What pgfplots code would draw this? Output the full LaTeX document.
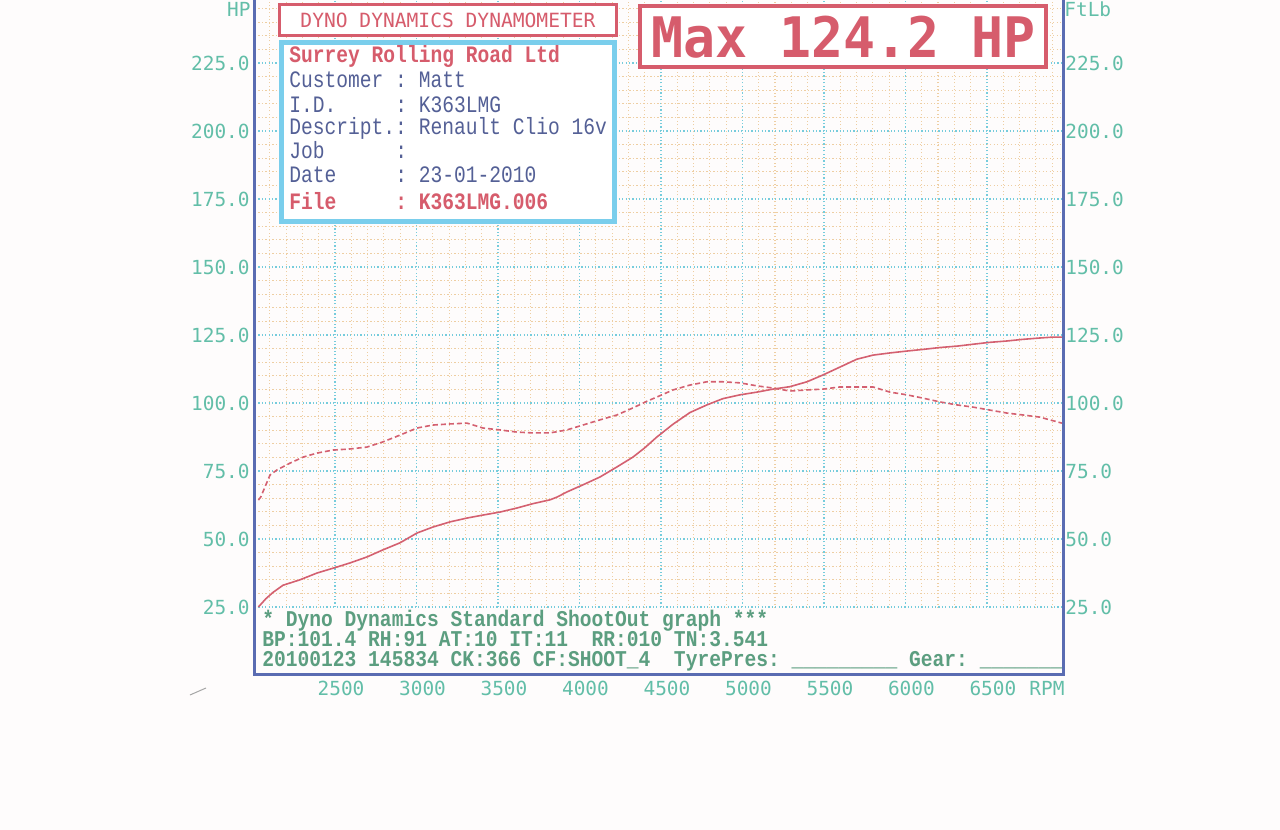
\documentclass[border=0pt]{standalone}
\usepackage{pgfplots}
\pgfplotsset{compat=1.18}
\usepackage{fontspec}
\setmainfont{Liberation Mono}
\newfontfamily\dmono{DejaVu Sans Mono}
\newfontfamily\lmono{Liberation Mono}

\definecolor{labcol}{RGB}{98,190,168}
\definecolor{footcol}{RGB}{92,158,128}
\definecolor{redcol}{RGB}{214,92,108}
\definecolor{bluetxt}{RGB}{84,96,150}
\definecolor{boxblue}{RGB}{122,206,236}
\definecolor{gridcyan}{RGB}{118,204,220}
\definecolor{gridorange}{RGB}{238,206,162}
\definecolor{frameblue}{RGB}{90,108,178}
\definecolor{curvecol}{RGB}{212,96,112}
\definecolor{paper}{RGB}{254,252,252}

\begin{document}
\begin{tikzpicture}
% page background (1280x830 px, 1 px = 0.5pt)
\fill[paper] (-127.5pt,-77.5pt) rectangle (512.5pt,337.5pt);

\begin{axis}[
    at={(0,0)}, anchor=south west,
    scale only axis, width=404pt, height=340pt,
    xmin=2009, xmax=6967, ymin=0, ymax=250,
    xtick={2500,3000,3500,4000,4500,5000,5500,6000,6500},
    xticklabels={2500,3000,3500,4000,4500,5000,5500,6000,6500},
    ytick={25,50,75,100,125,150,175,200,225},
    yticklabels={25.0,50.0,75.0,100.0,125.0,150.0,175.0,200.0,225.0},
    minor xtick={2100,2200,2300,2400,2600,2700,2800,2900,3100,3200,3300,3400,3600,3700,3800,3900,4100,4200,4300,4400,4600,4700,4800,4900,5100,5200,5300,5400,5600,5700,5800,5900,6100,6200,6300,6400,6600,6700,6800,6900},
    minor ytick={30,35,40,45,55,60,65,70,80,85,90,95,105,110,115,120,130,135,140,145,155,160,165,170,180,185,190,195,205,210,215,220,230,235,240,245},
    grid=both,
    major grid style={gridcyan, line width=0.6pt, dash pattern=on 0.6pt off 1.1pt},
    minor grid style={gridorange, line width=0.55pt, dash pattern=on 0.55pt off 1.2pt},
    tick style={draw=none},
    axis line style={frameblue, line width=1.5pt},
    ticklabel style={font=\dmono\fontsize{9.7}{10}\selectfont, text=labcol, inner sep=0pt},
    yticklabel style={anchor=east, xshift=-2.5pt},
    xticklabel style={anchor=center, yshift=-6.5pt, xshift=3pt},
  ]
  % footer area carries no grid
  \fill[paper] (axis cs:2009,0) rectangle (axis cs:6967,24.6);
  \draw[frameblue, line width=1.5pt] (rel axis cs:0,0) rectangle (rel axis cs:1,1);
  % power (HP)
  \addplot[curvecol, line width=0.8pt] coordinates {
    (2030,25.0) (2075,28.0) (2120,30.4) (2181,33.0) (2285,35.0) (2390,37.5) (2512,39.7)
    (2592,41.2) (2696,43.4) (2794,46.0) (2899,48.6) (3003,52.2) (3101,54.4) (3206,56.3)
    (3310,57.7) (3408,58.8) (3512,59.9) (3617,61.4) (3715,63.0) (3819,64.4) (3862,65.4)
    (3923,67.3) (4021,69.9) (4126,72.8) (4230,76.5) (4328,80.1) (4400,83.5) (4475,87.5)
    (4574,92.2) (4678,96.5) (4782,99.3) (4880,101.6) (4985,103.0) (5089,104.0) (5187,105.1)
    (5291,106.0) (5396,107.8) (5494,110.3) (5598,113.2) (5702,116.1) (5801,117.6)
    (5905,118.4) (6009,119.1) (6107,119.7) (6212,120.4) (6316,120.9) (6414,121.6)
    (6518,122.3) (6623,122.8) (6721,123.4) (6825,123.9) (6900,124.2) (6960,124.2)
  };
\end{axis}

\begin{axis}[
    at={(0,0)}, anchor=south west,
    scale only axis, width=404pt, height=340pt,
    xmin=2009, xmax=6967, ymin=0, ymax=250,
    axis x line=none, axis y line*=right,
    ytick={25,50,75,100,125,150,175,200,225},
    yticklabels={25.0,50.0,75.0,100.0,125.0,150.0,175.0,200.0,225.0},
    tick style={draw=none},
    axis line style={draw=none},
    ticklabel style={font=\dmono\fontsize{9.7}{10}\selectfont, text=labcol, inner sep=0pt},
    yticklabel style={anchor=west, xshift=1pt},
  ]
  % torque (FtLb)
  \addplot[curvecol, line width=0.8pt, dash pattern=on 2.5pt off 1.5pt] coordinates {
    (2030,64.3) (2045,65.5) (2070,69.1) (2101,73.5) (2144,75.4) (2224,77.9) (2304,80.1)
    (2390,81.6) (2488,82.7) (2592,83.1) (2696,83.8) (2794,85.7) (2899,88.2) (3003,90.8)
    (3101,91.9) (3206,92.3) (3310,92.6) (3408,90.8) (3512,90.1) (3617,89.3) (3715,89.0)
    (3819,89.0) (3923,90.1) (4021,91.9) (4126,93.8) (4230,95.6) (4328,98.2) (4420,100.8)
    (4475,102.2) (4574,104.8) (4678,106.6) (4782,107.8) (4880,107.8) (4985,107.4)
    (5089,106.3) (5187,105.5) (5291,104.4) (5396,104.8) (5494,105.1) (5598,105.9)
    (5702,105.9) (5801,105.9) (5905,104.0) (6009,103.0) (6107,101.8) (6212,100.4)
    (6316,99.3) (6414,98.5) (6518,97.4) (6623,96.3) (6721,95.6) (6825,94.8) (6960,92.6)
  };
\end{axis}

% annotations, in pixel positions of the sheet
\begin{scope}[x=0.5pt, y=-0.5pt, shift={(-127.5pt,337.5pt)}]
  \tikzset{lab/.style={text=labcol, inner sep=0pt, font=\dmono\fontsize{9.7}{10}\selectfont}}
  \node[lab, anchor=east] at (251,9) {HP};
  \node[lab, anchor=west] at (1064,9) {FtLb};
  \node[lab, anchor=west] at (1029,688) {RPM};

  % header box
  \draw[redcol, line width=1.5pt, fill=white] (279.5,5) rectangle (616.5,35.5);
  \node[text=redcol, inner sep=0pt, font=\dmono\fontsize{9.8}{10}\selectfont] at (448,20.5) {DYNO DYNAMICS DYNAMOMETER};

  % info box
  \draw[boxblue, line width=2.5pt, fill=white] (281.5,42.5) rectangle (614.5,221.5);
  \tikzset{info/.style={anchor=base west, inner sep=0pt, yscale=1.2, text=bluetxt, font=\lmono\fontsize{9.8}{10}\selectfont}}
  \node[info, text=redcol, font=\lmono\bfseries\fontsize{9.8}{10}\selectfont] at (289,62.5) {Surrey~Rolling~Road~Ltd};
  \node[info] at (289,88) {Customer~:~Matt};
  \node[info] at (289,112.5) {I.D.~~~~~:~K363LMG};
  \node[info] at (289,135) {Descript.:~Renault~Clio~16v};
  \node[info] at (289,159) {Job~~~~~~:};
  \node[info] at (289,183) {Date~~~~~:~23-01-2010};
  \node[info, text=redcol, font=\lmono\bfseries\fontsize{9.8}{10}\selectfont] at (289,210) {File~~~~~:~K363LMG.006};

  % max box
  \draw[redcol, line width=1.8pt, fill=white] (640,6) rectangle (1046,67);
  \node[text=redcol, inner sep=0pt, yscale=1.05, font=\dmono\bfseries\fontsize{26.6}{28}\selectfont] at (843.5,37) {Max 124.2 HP};

  % footer
  \tikzset{foot/.style={anchor=base west, inner sep=0pt, yscale=1.15, text=footcol, font=\lmono\bfseries\fontsize{9.8}{10}\selectfont}}
  \node[foot] at (262,627) {*~Dyno~Dynamics~Standard~ShootOut~graph~***};
  \node[foot] at (262,647) {BP:101.4~RH:91~AT:10~IT:11~~RR:010~TN:3.541};
  \node[foot] at (262,667) {20100123~145834~CK:366~CF:SHOOT\_4~~TyrePres:~\_\_\_\_\_\_\_\_\_~Gear:~\_\_\_\_\_\_\_};

  \draw[gray!70, line width=0.5pt] (190,695) -- (206,688);
\end{scope}

\pgfresetboundingbox
\useasboundingbox (-127.5pt,-77.5pt) rectangle (512.5pt,337.5pt);
\end{tikzpicture}
\end{document}
